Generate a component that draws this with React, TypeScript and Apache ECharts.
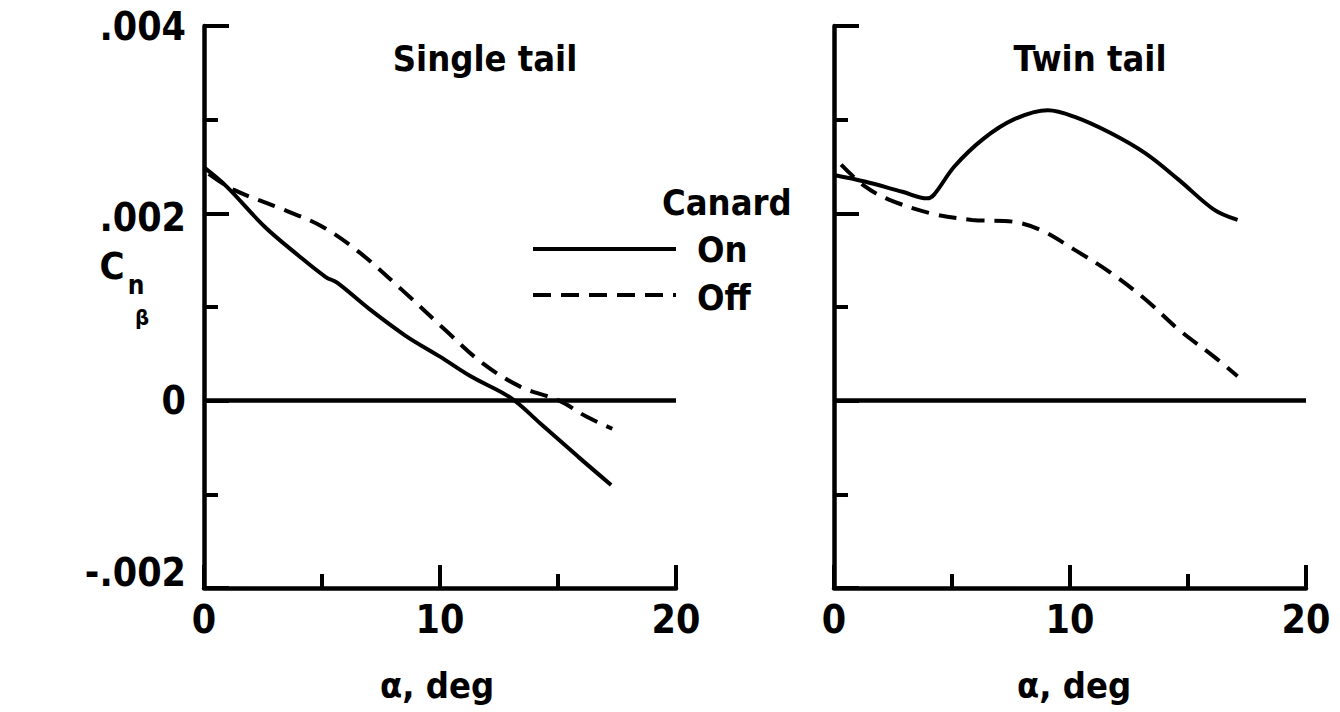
import React, { useEffect, useRef } from "react";
import * as echarts from "echarts";

// Single tail, canard on (solid)
const alphaSingleOn = [0, 0.94, 2.56, 4.0, 5.16, 5.64, 7.0, 8.56, 10.0, 11.3, 13.0, 14.24, 15.86, 17.25];
const cnSingleOn = [0.00249, 0.00229, 0.00186, 0.00155, 0.00132, 0.00126, 0.00098, 0.00069, 0.00047, 0.00026, 0.00003, -0.00024, -0.0006, -0.0009];
// Single tail, canard off (dashed)
const alphaSingleOff = [0.2, 1.27, 3.37, 5.0, 6.6, 8.4, 10.2, 11.8, 13.4, 15.05, 16.2, 17.3];
const cnSingleOff = [0.00242, 0.00225, 0.00204, 0.00186, 0.00158, 0.00118, 0.00076, 0.0004, 0.00015, 0.0, -0.00017, -0.0003];
// Twin tail, canard on (solid)
const alphaTwinOn = [0, 1.3, 2.9, 3.95, 4.24, 5.1, 6.3, 7.6, 9.06, 10.2, 11.7, 13.2, 14.6, 16.1, 17.1];
const cnTwinOn = [0.00241, 0.00234, 0.00223, 0.00216, 0.0022, 0.0025, 0.00279, 0.003, 0.0031, 0.00303, 0.00286, 0.00264, 0.00236, 0.00204, 0.00193];
// Twin tail, canard off (dashed)
const alphaTwinOff = [0.3, 1.3, 2.3, 4.1, 5.85, 7.6, 8.77, 10.2, 11.7, 13.2, 14.6, 16.1, 17.1];
const cnTwinOff = [0.00252, 0.00229, 0.00215, 0.002, 0.00193, 0.00191, 0.00182, 0.00161, 0.00137, 0.00108, 0.00076, 0.00047, 0.00026];

const xTickLabels = ["0", "10", "20"];
const yTickLabels: Record<string, string> = { "0.004": ".004", "0.002": ".002", "0": "0", "-0.002": "-.002" };
const panelTitles = ["Single tail", "Twin tail"];
const legendTitle = "Canard";
const legendNames = ["On", "Off"];
const xAxisTitle = "α, deg";

const FONT = "'Liberation Sans Narrow', 'DejaVu Sans Condensed', 'Arial Narrow', sans-serif";
const BLACK = "#000";
const W = "bold";

const zip = (a: number[], b: number[]) => a.map((v, i) => [v, b[i]]);

export default function App() {
  const ref = useRef<HTMLDivElement>(null);
  useEffect(() => {
    if (!ref.current) return;
    const chart = echarts.init(ref.current, undefined, { renderer: "svg" });

    const makeX = (gridIndex: number) => ({
      type: "value",
      gridIndex,
      min: 0,
      max: 20,
      interval: 10,
      axisLine: { show: true, lineStyle: { color: BLACK, width: 4.5 }, onZero: false },
      axisTick: { show: true, inside: true, length: 23, lineStyle: { color: BLACK, width: 4 } },
      minorTick: { show: true, splitNumber: 2, length: 14, lineStyle: { color: BLACK, width: 4 } },
      splitLine: { show: false },
      axisLabel: {
        show: true,
        margin: 12,
        color: BLACK,
        fontSize: 39,
        fontWeight: W,
        fontFamily: FONT,
        formatter: (v: number) => xTickLabels[Math.round(v / 10)] ?? "",
      },
    });
    const makeY = (gridIndex: number, labels: boolean) => ({
      type: "value",
      gridIndex,
      min: -0.002,
      max: 0.004,
      interval: 0.002,
      axisLine: { show: true, lineStyle: { color: BLACK, width: 4.5 }, onZero: false },
      axisTick: { show: true, inside: true, length: 25, lineStyle: { color: BLACK, width: 4 } },
      minorTick: { show: true, splitNumber: 2, length: 14, lineStyle: { color: BLACK, width: 4 } },
      splitLine: { show: false },
      axisLabel: {
        show: labels,
        margin: 18,
        color: BLACK,
        fontSize: 39,
        fontWeight: W,
        fontFamily: FONT,
        formatter: (v: number) => {
          const key = String(Math.round(v * 1000) / 1000);
          const s = yTickLabels[key] ?? "";
          if (key === "-0.002") return "{up|" + s + "}";
          if (key === "0.002") return "{dn|" + s + "}";
          return s;
        },
        rich: {
          up: { fontSize: 39, fontWeight: W, fontFamily: FONT, color: BLACK, padding: [0, 0, 32, 0] },
          dn: { fontSize: 39, fontWeight: W, fontFamily: FONT, color: BLACK, padding: [8, 0, 0, 0] },
        },
      },
    });

    const zeroLine = {
      silent: true,
      symbol: "none",
      label: { show: false },
      lineStyle: { color: BLACK, width: 4.5, type: "solid" },
      data: [{ yAxis: 0 }],
    };

    const lineSeries = (name: string, idx: number, data: number[][], dashed: boolean, withZero: boolean) => ({
      name,
      type: "line",
      xAxisIndex: idx,
      yAxisIndex: idx,
      data,
      smooth: 0.35,
      showSymbol: false,
      symbol: "none",
      lineStyle: { color: BLACK, width: 4, type: dashed ? [18, 10] : "solid" },
      ...(withZero ? { markLine: zeroLine } : {}),
    });

    const text = (t: string, x: number, y: number, size: number, align = "center") => ({
      type: "text",
      x,
      y,
      style: { text: t, fill: BLACK, fontSize: size, fontWeight: W, fontFamily: FONT, align, verticalAlign: "middle" },
    });

    chart.setOption({
      animation: false,
      backgroundColor: "#fff",
      grid: [
        { left: 204, top: 26, width: 472, height: 562 },
        { left: 834, top: 26, width: 472, height: 562 },
      ],
      xAxis: [makeX(0), makeX(1)],
      yAxis: [makeY(0, true), makeY(1, false)],
      series: [
        lineSeries(legendNames[0], 0, zip(alphaSingleOn, cnSingleOn), false, true),
        lineSeries(legendNames[1], 0, zip(alphaSingleOff, cnSingleOff), true, false),
        lineSeries(legendNames[0], 1, zip(alphaTwinOn, cnTwinOn), false, true),
        lineSeries(legendNames[1], 1, zip(alphaTwinOff, cnTwinOff), true, false),
      ],
      graphic: [
        text(panelTitles[0], 485, 58, 36),
        text(panelTitles[1], 1090, 58, 36),
        text(xAxisTitle, 437, 685, 36),
        text(xAxisTitle, 1074, 685, 36),
        text(legendTitle, 662, 202, 36, "left"),
        text(legendNames[0], 697, 249, 36, "left"),
        text(legendNames[1], 697, 297, 36, "left"),
        {
          type: "line",
          shape: { x1: 533, y1: 249, x2: 676, y2: 249 },
          style: { stroke: BLACK, lineWidth: 4 },
        },
        {
          type: "line",
          shape: { x1: 533, y1: 295, x2: 676, y2: 295 },
          style: { stroke: BLACK, lineWidth: 4, lineDash: [18, 10] },
        },
        text("C", 112, 266, 38),
        text("n", 136, 285, 26),
        text("β", 142, 317, 22),
      ],
    });
    return () => chart.dispose();
  }, []);
  return <div ref={ref} style={{ position: "absolute", left: 0, top: 0, width: 1340, height: 712 }} />;
}
